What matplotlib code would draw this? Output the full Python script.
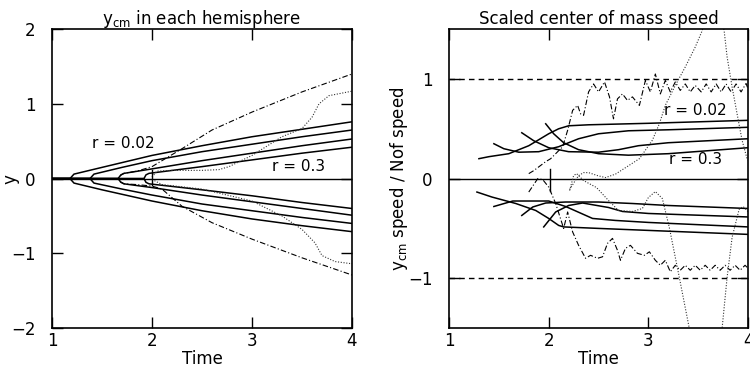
import numpy as np
import matplotlib.pyplot as plt

plt.rcParams['font.family'] = 'DejaVu Sans'
plt.rcParams['font.size'] = 12

# ---- left panel: y_cm in each hemisphere ----
# solid curves (r = 0.02 ... 0.3), upper and lower hemisphere
tA = [1.0, 1.18, 1.22, 1.5, 2.0, 2.5, 3.0, 3.5, 4.0]
yA_up = [0, 0, 0.06, 0.15, 0.31, 0.44, 0.56, 0.66, 0.76]
yA_lo = [0, 0, -0.06, -0.15, -0.30, -0.43, -0.54, -0.63, -0.71]
tB = [1.0, 1.38, 1.42, 1.7, 2.0, 2.5, 3.0, 3.5, 4.0]
yB_up = [0, 0, 0.06, 0.15, 0.24, 0.36, 0.46, 0.56, 0.65]
yB_lo = [0, 0, -0.06, -0.14, -0.22, -0.34, -0.43, -0.52, -0.60]
tC = [1.0, 1.66, 1.69, 1.72, 2.0, 2.5, 3.0, 3.5, 4.0]
yC_up = [0, 0, 0.05, 0.07, 0.13, 0.24, 0.34, 0.44, 0.53]
yC_lo = [0, 0, -0.05, -0.07, -0.12, -0.22, -0.31, -0.40, -0.49]
tD = [1.0, 1.92, 1.94, 1.97, 2.5, 3.0, 3.5, 4.0]
yD_up = [0, 0, 0.05, 0.07, 0.16, 0.25, 0.34, 0.42]
yD_lo = [0, 0, -0.05, -0.07, -0.15, -0.23, -0.32, -0.40]

# dash-dot curves
tdd_up = [1.68, 1.72, 1.85, 2.0, 2.3, 2.6, 3.0, 3.5, 4.0]
ydd_up = [0.04, 0.07, 0.10, 0.16, 0.40, 0.65, 0.89, 1.16, 1.40]
tdd_lo = [1.68, 1.72, 1.85, 2.0, 2.1, 2.3, 2.6, 3.0, 3.5, 4.0]
ydd_lo = [-0.04, -0.07, -0.08, -0.10, -0.14, -0.37, -0.59, -0.81, -1.06, -1.29]

# dotted curves
tdt_up = [2.0, 2.05, 2.2, 2.5, 2.67, 2.77, 3.0, 3.3, 3.5, 3.6, 3.67, 3.77, 4.0]
ydt_up = [0.02, 0.10, 0.11, 0.11, 0.12, 0.16, 0.31, 0.56, 0.67, 0.82, 1.00, 1.11, 1.17]
tdt_lo = [2.0, 2.1, 2.5, 3.0, 3.3, 3.5, 3.63, 3.7, 3.83, 4.0]
ydt_lo = [-0.01, -0.08, -0.14, -0.30, -0.50, -0.68, -0.86, -1.03, -1.11, -1.14]

# short vertical start mark
tmark_l = [2.0, 2.0]
ymark_l = [-0.08, 0.11]

# ---- right panel: scaled center of mass speed ----
t1_up = [1.30, 1.40, 1.60, 1.80, 2.00, 2.10, 2.20, 2.40, 3.0, 3.5, 4.0]
v1_up = [0.20, 0.22, 0.25, 0.33, 0.45, 0.50, 0.53, 0.54, 0.555, 0.57, 0.585]
t2_up = [1.45, 1.55, 1.70, 1.90, 2.10, 2.30, 2.50, 2.80, 3.2, 4.0]
v2_up = [0.35, 0.30, 0.265, 0.27, 0.32, 0.40, 0.45, 0.48, 0.49, 0.515]
t3_up = [1.73, 1.85, 2.0, 2.2, 2.5, 2.7, 2.9, 3.2, 4.0]
v3_up = [0.46, 0.38, 0.31, 0.27, 0.265, 0.29, 0.33, 0.36, 0.40]
t4_up = [1.97, 2.05, 2.15, 2.3, 2.5, 2.8, 3.2, 4.0]
v4_up = [0.55, 0.45, 0.36, 0.29, 0.25, 0.235, 0.25, 0.31]

t1_lo = [1.28, 1.43, 1.67, 1.87, 2.0, 2.1, 2.15, 2.5, 3.0, 3.5, 4.0]
v1_lo = [-0.135, -0.185, -0.25, -0.32, -0.40, -0.47, -0.485, -0.50, -0.52, -0.54, -0.56]
t2_lo = [1.45, 1.64, 2.0, 2.17, 2.44, 2.67, 3.0, 4.0]
v2_lo = [-0.28, -0.225, -0.225, -0.28, -0.40, -0.42, -0.44, -0.485]
t3_lo = [1.73, 1.84, 1.97, 2.17, 2.5, 2.84, 3.2, 4.0]
v3_lo = [-0.37, -0.285, -0.245, -0.235, -0.235, -0.25, -0.27, -0.30]
t4_lo = [1.95, 2.07, 2.2, 2.34, 2.6, 2.74, 3.0, 4.0]
v4_lo = [-0.485, -0.335, -0.27, -0.245, -0.29, -0.33, -0.35, -0.385]

# dash-dot (oscillating) curves
tw_up = [1.80, 1.85, 1.97, 2.02, 2.07, 2.14, 2.19, 2.24, 2.29, 2.32, 2.35, 2.40, 2.45,
         2.50, 2.56, 2.61, 2.65, 2.69, 2.74, 2.79, 2.84, 2.91, 2.97, 3.02, 3.07, 3.12,
         3.17, 3.22, 3.27, 3.32, 3.37, 3.42, 3.47, 3.53, 3.58, 3.63, 3.68, 3.73, 3.78,
         3.83, 3.88, 3.93, 3.98, 4.0]
vw_up = [0.05, 0.08, 0.17, 0.20, 0.25, 0.32, 0.485, 0.685, 0.735, 0.65, 0.635, 0.87, 0.95,
         0.87, 0.97, 0.82, 0.60, 0.80, 0.85, 0.785, 0.82, 0.735, 0.985, 0.87, 1.05, 0.85,
         0.985, 0.87, 0.97, 0.885, 0.95, 0.87, 0.935, 0.87, 0.95, 0.87, 0.95, 0.87, 0.95,
         0.87, 0.95, 0.87, 0.955, 0.90]
tw_lo = [1.80, 1.89, 1.94, 2.0, 2.07, 2.15, 2.19, 2.24, 2.30, 2.37, 2.42, 2.49, 2.54,
         2.59, 2.64, 2.69, 2.72, 2.77, 2.82, 2.89, 2.96, 3.01, 3.07, 3.12, 3.17, 3.22,
         3.27, 3.32, 3.37, 3.42, 3.47, 3.52, 3.57, 3.62, 3.67, 3.72, 3.77, 3.82, 3.87,
         3.92, 3.97, 4.0]
vw_lo = [-0.135, 0.0, -0.01, -0.085, -0.25, -0.50, -0.335, -0.535, -0.67, -0.80, -0.77,
         -0.80, -0.785, -0.65, -0.60, -0.72, -0.82, -0.70, -0.67, -0.75, -0.77, -0.735,
         -0.82, -0.87, -0.82, -0.935, -0.87, -0.92, -0.87, -0.92, -0.87, -0.92, -0.87,
         -0.92, -0.87, -0.92, -0.87, -0.92, -0.87, -0.92, -0.87, -0.90]

# dotted curves
tq_up = [2.21, 2.26, 2.30, 2.35, 2.40, 2.49, 2.57, 2.67, 2.81, 2.91, 2.97, 3.04, 3.11,
         3.17, 3.27, 3.37, 3.47, 3.54, 3.65, 3.76, 3.79, 3.84, 3.89, 3.94, 3.99, 4.0]
vq_up = [-0.11, -0.03, 0.03, 0.06, 0.06, 0.03, 0.01, 0.045, 0.135, 0.20, 0.285, 0.385, 0.55,
         0.735, 0.935, 1.12, 1.32, 1.485, 2.0, 1.485, 1.22, 0.92, 0.65, 0.385, 0.20, 0.185]
tq_lo = [2.21, 2.25, 2.28, 2.35, 2.48, 2.60, 2.70, 2.84, 2.94, 3.0, 3.07, 3.14, 3.21,
         3.31, 3.41, 3.58, 3.74, 3.79, 3.84, 3.91, 3.95, 4.0]
vq_lo = [-0.12, 0.03, 0.05, -0.02, -0.09, -0.22, -0.32, -0.33, -0.30, -0.19, -0.13, -0.20,
         -0.49, -0.99, -1.5, -2.0, -1.5, -0.99, -0.59, -0.31, -0.28, -0.33]

tmark_r = [2.01, 2.01]
vmark_r = [-0.125, 0.095]

solid = dict(color='black', lw=1.1)
dashdot = dict(color='black', lw=0.8, linestyle=(0, (5, 2, 1, 2)))
dotted = dict(color='#333333', lw=0.8, linestyle=(0, (1, 1.5)))

fig = plt.figure(figsize=(7.5, 3.69), dpi=100)
ax1 = fig.add_axes([0.0693, 0.111, 0.40, 0.81])
ax2 = fig.add_axes([0.5987, 0.111, 0.3987, 0.81])

# left
ax1.axhline(0, color='black', lw=1.0)
for t, yu, yl in [(tA, yA_up, yA_lo), (tB, yB_up, yB_lo), (tC, yC_up, yC_lo), (tD, yD_up, yD_lo)]:
    ax1.plot(t, yu, **solid)
    ax1.plot(t, yl, **solid)
ax1.plot(tdd_up, ydd_up, **dashdot)
ax1.plot(tdd_lo, ydd_lo, **dashdot)
ax1.plot(tdt_up, ydt_up, **dotted)
ax1.plot(tdt_lo, ydt_lo, **dotted)
ax1.plot(tmark_l, ymark_l, color='black', lw=1.0)
ax1.text(1.71, 0.47, 'r = 0.02', fontsize=11, ha='center', va='center')
ax1.text(3.47, 0.16, 'r = 0.3', fontsize=11, ha='center', va='center')
ax1.set_xlim(1, 4)
ax1.set_ylim(-2, 2)
ax1.set_xticks([1, 2, 3, 4])
ax1.set_yticks([-2, -1, 0, 1, 2])
ax1.set_title(r'$\mathregular{y_{cm}}$ in each hemisphere', fontsize=12, pad=4)
ax1.set_xlabel('Time', labelpad=0)
ax1.set_ylabel('y', va='center')
ax1.yaxis.set_label_coords(-0.14, 0.5)

# right
ax2.axhline(0, color='black', lw=1.0)
ax2.axhline(1, color='black', lw=1.0, linestyle=(0, (4, 3)))
ax2.axhline(-1, color='black', lw=1.0, linestyle=(0, (4, 3)))
for t, v in [(t1_up, v1_up), (t2_up, v2_up), (t3_up, v3_up), (t4_up, v4_up),
             (t1_lo, v1_lo), (t2_lo, v2_lo), (t3_lo, v3_lo), (t4_lo, v4_lo)]:
    ax2.plot(t, v, **solid)
ax2.plot(tw_up, vw_up, **dashdot)
ax2.plot(tw_lo, vw_lo, **dashdot)
ax2.plot(tq_up, vq_up, **dotted)
ax2.plot(tq_lo, vq_lo, **dotted)
ax2.plot(tmark_r, vmark_r, color='black', lw=1.0)
ax2.text(3.16, 0.685, 'r = 0.02', fontsize=11, ha='left', va='center')
ax2.text(3.21, 0.19, 'r = 0.3', fontsize=11, ha='left', va='center')
ax2.set_xlim(1, 4)
ax2.set_ylim(-1.5, 1.5)
ax2.set_xticks([1, 2, 3, 4])
ax2.set_yticks([-1, 0, 1])
ax2.set_title('Scaled center of mass speed', fontsize=12, pad=4)
ax2.set_xlabel('Time', labelpad=0)
ax2.set_ylabel(r'$\mathregular{y_{cm}}$ speed / Nof speed')
ax2.yaxis.set_label_coords(-0.13, 0.5)

for ax in (ax1, ax2):
    for s in ax.spines.values():
        s.set_linewidth(1.2)
    ax.tick_params(direction='in', length=8, width=1.0, top=True, right=True,
                   labelsize=12)
    ax.tick_params(axis='x', pad=3)
    ax.tick_params(axis='y', pad=12)

fig.savefig('out.png', dpi=100)
